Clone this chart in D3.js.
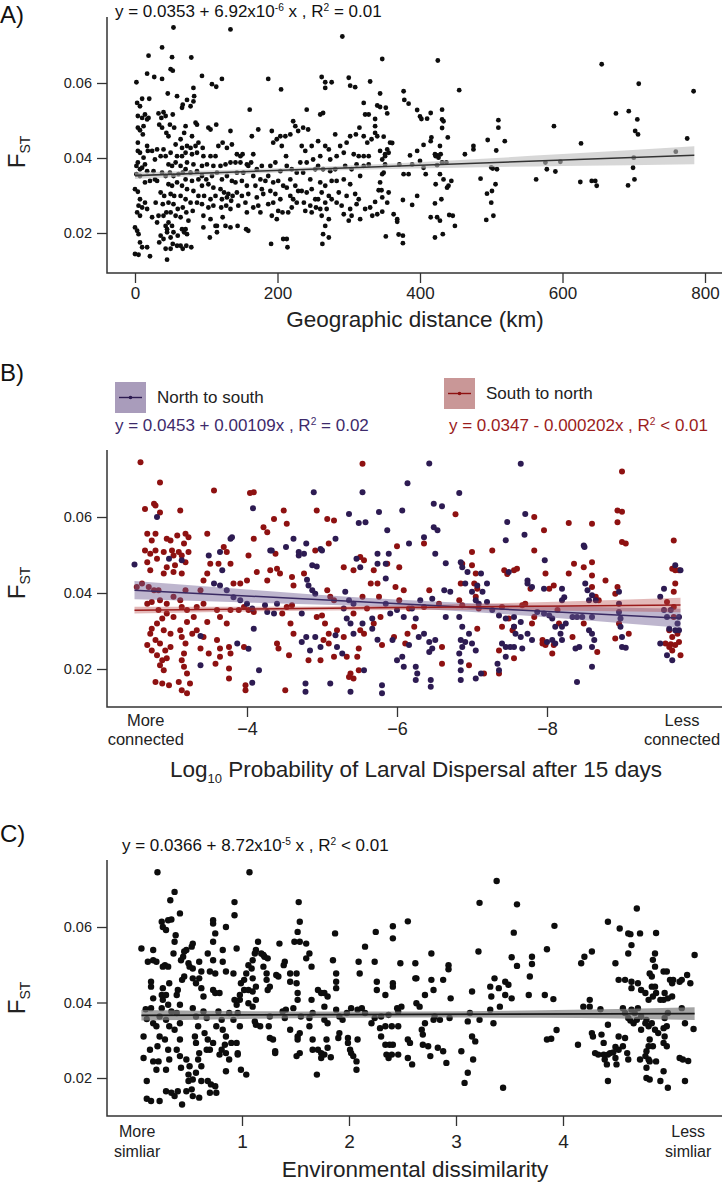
<!DOCTYPE html>
<html><head><meta charset="utf-8">
<script src="https://cdn.jsdelivr.net/npm/d3@7"></script>
<style>body{margin:0;background:#fff}svg{display:block}</style>
</head><body><svg id="c" width="724" height="1188"></svg>
<script>
// ---------- data ----------
const fstTicks = [0.02, 0.04, 0.06];
const distTicks = [0, 200, 400, 600, 800];
const dispTicks = [-4, -6, -8];
const envTicks = [1, 2, 3, 4];

// Panel A: [geographic distance km, FST]
const geoPoints = [
[2,.0602],[19,.0673],[3,.0547],[10,.0558],[7,.0538],[20,.0558],[17,.0625],[4,.0512],[10,.0507],[14,.0516],[4,.0481],[7,.0474],[12,.0485],[17,.0503],[19,.0507],[4,.0441],[11,.0463],[17,.0432],[4,.0419],[7,.0414],[4,.0388],[12,.0401],[18,.0419],[2,.0379],[7,.0370],[10,.0374],[2,.0357],[7,.0352],[14,.0383],[17,.0365],[0,.0317],[4,.0310],[7,.0290],[5,.0273],[10,.0268],[3,.0255],[7,.0246],[14,.0281],[17,.0264],[0,.0215],[3,.0206],[5,.0197],[7,.0175],[0,.0144],[5,.0142],[10,.0162],[17,.0162],[21,.0138],[14,.0335],[21,.0339],
[24,.0419],[28,.0396],[26,.0365],[28,.0343],[31,.0339],[29,.0281],[33,.0246],[31,.0228],[36,.0193],[34,.0175],[24,.0242],[38,.0695],[27,.0616],[38,.0611],[33,.0519],[37,.0507],[40,.0522],[34,.0489],[38,.0481],[43,.0512],[44,.0467],[31,.0423],[40,.0423],[36,.0405],[43,.0405],[38,.0361],[43,.0352],[36,.0308],[41,.0299],[39,.0277],[44,.0255],[40,.0246],[43,.0219],[45,.0202],[40,.0184],[45,.0129],[43,.0158],[45,.0210],
[54,.0748],[52,.0669],[50,.0637],[53,.0633],[46,.0572],[59,.0565],[53,.0516],[49,.0489],[55,.0481],[66,.0534],[67,.0542],[47,.0458],[57,.0436],[64,.0450],[66,.0427],[50,.0414],[59,.0405],[66,.0405],[47,.0383],[52,.0379],[57,.0388],[64,.0379],[49,.0361],[54,.0352],[61,.0357],[67,.0361],[47,.0330],[52,.0326],[59,.0335],[66,.0326],[50,.0304],[55,.0299],[64,.0299],[47,.0281],[54,.0277],[60,.0264],[67,.0268],[50,.0255],[57,.0246],[64,.0242],[47,.0228],[52,.0219],[54,.0202],[50,.0188],[60,.0193],[66,.0210],[69,.0202],[53,.0171],[59,.0166],[50,.0158],[67,.0158],[64,.0166],
[79,.0668],[73,.0555],[78,.0538],[82,.0587],[83,.0565],[82,.0551],[71,.0485],[85,.0494],[87,.0489],[69,.0467],[80,.0458],[89,.0441],[73,.0432],[78,.0427],[85,.0432],[71,.0414],[80,.0410],[87,.0414],[73,.0388],[82,.0383],[71,.0370],[78,.0361],[87,.0365],[71,.0343],[80,.0339],[89,.0343],[73,.0317],[82,.0312],[89,.0299],[71,.0290],[78,.0281],[87,.0281],[72,.0255],[81,.0259],[75,.0233],[71,.0210],[73,.0197],[79,.0162],[72,.0166],
[94,.0619],[108,.0597],[114,.0590],[95,.0427],[103,.0481],[106,.0476],[114,.0489],[96,.0405],[106,.0405],[113,.0405],[94,.0379],[101,.0383],[110,.0379],[94,.0352],[100,.0343],[108,.0352],[115,.0361],[94,.0326],[103,.0330],[110,.0321],[97,.0299],[106,.0290],[113,.0299],[94,.0277],[103,.0268],[110,.0273],[96,.0246],[106,.0237],[96,.0215],[105,.0188],[115,.0202],[113,.0219],
[122,.0611],[134,.0743],[134,.0472],[123,.0441],[117,.0432],[129,.0427],[136,.0436],[120,.0379],[127,.0383],[134,.0388],[122,.0343],[129,.0352],[136,.0339],[120,.0317],[125,.0308],[131,.0304],[137,.0299],[122,.0290],[129,.0295],[135,.0286],[121,.0268],[128,.0273],[134,.0264],[123,.0242],[115,.0219],[127,.0219],[134,.0215],
[143,.0410],[148,.0405],[151,.0410],[141,.0388],[148,.0388],[157,.0383],[143,.0361],[152,.0361],[159,.0379],[141,.0335],[150,.0339],[157,.0326],[143,.0308],[150,.0299],[159,.0304],[145,.0273],[155,.0281],[157,.0255],[144,.0219],[156,.0210],[159,.0206],[161,.0529],
[164,.0458],[166,.0410],[173,.0476],[163,.0388],[171,.0370],[178,.0379],[166,.0352],[176,.0343],[183,.0339],[169,.0326],[178,.0317],[171,.0295],[180,.0304],[173,.0273],[166,.0268],[176,.0255],
[187,.0611],[205,.0583],[192,.0472],[204,.0458],[194,.0441],[199,.0450],[206,.0432],[190,.0379],[197,.0388],[204,.0365],[187,.0352],[194,.0335],[201,.0339],[208,.0326],[190,.0312],[197,.0304],[204,.0290],[187,.0277],[194,.0281],[201,.0259],[207,.0255],[192,.0246],[199,.0237],[191,.0171],[208,.0184],
[211,.0458],[218,.0463],[212,.0405],[222,.0498],[225,.0485],[229,.0472],[213,.0379],[220,.0370],[227,.0361],[218,.0343],[225,.0326],[213,.0321],[229,.0312],[218,.0299],[222,.0290],[227,.0281],[220,.0268],[215,.0255],[213,.0184],[214,.0162],
[241,.0529],[236,.0481],[243,.0476],[234,.0432],[239,.0419],[248,.0432],[232,.0388],[241,.0388],[250,.0396],[236,.0361],[246,.0343],[253,.0370],[234,.0312],[241,.0308],[248,.0317],[253,.0290],[237,.0281],[246,.0273],[239,.0259],[248,.0255],[254,.0268],
[262,.0616],[267,.0602],[276,.0602],[264,.0520],[260,.0516],[267,.0587],[257,.0445],[267,.0432],[272,.0423],[260,.0405],[274,.0396],[257,.0379],[264,.0370],[274,.0365],[260,.0335],[267,.0326],[276,.0339],[262,.0308],[272,.0299],[257,.0290],[267,.0281],[276,.0290],[260,.0264],[269,.0264],[262,.0246],[272,.0237],[267,.0219],[263,.0171],[272,.0188],[264,.0197],
[291,.0724],[300,.0614],[302,.0593],[309,.0589],[281,.0463],[288,.0432],[297,.0441],[302,.0458],[310,.0463],[315,.0481],[283,.0405],[293,.0414],[307,.0410],[314,.0405],[281,.0370],[295,.0379],[304,.0370],[311,.0383],[283,.0339],[293,.0343],[302,.0330],[316,.0352],[286,.0308],[297,.0299],[309,.0304],[314,.0290],[283,.0281],[290,.0273],[302,.0264],[311,.0277],[293,.0250],[304,.0246],[316,.0237],[300,.0233],
[347,.0664],[425,.0660],[330,.0604],[321,.0547],[323,.0516],[328,.0516],[344,.0572],[340,.0540],[344,.0536],[352,.0534],[354,.0519],[337,.0504],[337,.0485],[337,.0467],[340,.0458],[332,.0450],[326,.0441],[321,.0458],[349,.0457],[358,.0441],[361,.0440],[344,.0419],[354,.0423],[351,.0410],[356,.0414],[347,.0396],[351,.0405],[328,.0405],[321,.0405],[321,.0379],[328,.0383],[351,.0383],[371,.0383],[389,.0383],[396,.0419],[386,.0407],[400,.0392],[405,.0374],[408,.0357],[377,.0357],[384,.0357],[347,.0357],[349,.0361],[344,.0335],[346,.0314],[342,.0314],[356,.0308],[337,.0283],[330,.0268],[323,.0264],[333,.0246],[340,.0250],[347,.0257],[347,.0295],[354,.0281],[363,.0250],[368,.0237],[368,.0230],[352,.0191],[370,.0196],[376,.0193],[376,.0173],[376,.0288],[389,.0275],[396,.0299],[377,.0578],[378,.0555],[384,.0545],[396,.0528],[400,.0511],[402,.0504],[410,.0505],[415,.0520],[405,.0435],[415,.0445],[416,.0455],[428,.0432],[421,.0410],[422,.0405],[425,.0407],[426,.0401],[429,.0410],[431,.0388],[424,.0381],[431,.0480],[431,.0503],[433,.0498],[431,.0529],[439,.0455],[437,.0388],[428,.0357],[433,.0343],[444,.0339],[422,.0330],[440,.0326],[438,.0321],[430,.0290],[421,.0279],[415,.0242],[424,.0242],[428,.0233],[441,.0248],[446,.0246],[449,.0219],[432,.0197],[421,.0188],[455,.0581],[463,.0410],[475,.0432],[475,.0423],[485,.0345],[495,.0448],[494,.0305],[501,.0312],[500,.0281],[506,.0330],[502,.0372],[500,.0375],[508,.0370],[507,.0420],[510,.0501],[510,.0481],[519,.0445],[493,.0235],[503,.0246],[576,.0388],[578,.0370],[563,.0343],[588,.0485],[590,.0364],[597,.0390],[625,.0336],[626,.0439],[641,.0339],[646,.0339],[648,.0326],[655,.0650],[675,.0519],[693,.0525],[705,.0503],[702,.0472],[706,.0463],[699,.0374],[700,.0401],[701,.0343],[692,.0327],[707,.0598],[759,.0417],[775,.0452],[784,.0578]
];

// Panel B: [log10 probability, FST]
const northSouthPoints = [
[-2.5,.0475],[-2.8,.0600],[-2.96,.0490],[-3.13,.0486],[-3.38,.0210],[-3.38,.0287],[-3.49,.0499],[-3.64,.0508],[-3.78,.0543],[-3.8,.0547],[-3.67,.0460],[-3.56,.0425],[-3.64,.0420],[-3.73,.0407],[-3.82,.0389],[-3.91,.0381],[-4.0,.0372],[-4.07,.0359],[-4.08,.0623],[-4.09,.0306],[-4.16,.0197],[-4.07,.0164],[-4.02,.0253],[-3.87,.0267],[-4.27,.0350],[-4.24,.0368],[-4.31,.0512],[-4.33,.0512],[-4.4,.0372],[-4.36,.0346],[-4.52,.0521],[-4.62,.0543],[-4.69,.0499],[-4.69,.0508],[-4.76,.0503],[-4.79,.0530],[-4.89,.0665],[-4.8,.0435],[-4.82,.0420],[-4.87,.0407],[-4.91,.0398],[-4.87,.0473],[-4.93,.0470],[-4.73,.0346],[-4.73,.0271],[-4.79,.0284],[-4.84,.0249],[-4.91,.0284],[-4.98,.0258],[-4.78,.0162],[-4.78,.0140],[-4.98,.0516],[-5.0,.0512],[-5.18,.0543],[-5.36,.0608],[-5.29,.0359],[-5.18,.0289],[-5.2,.0258],[-5.27,.0241],[-5.11,.0162],[-5.38,.0140],[-5.33,.0333],[-5.31,.0403],[-5.42,.0372],[-5.38,.0320],[-5.46,.0490],[-5.49,.0584],[-5.51,.0468],[-5.36,.0381],[-5.42,.0293],
[-6.43,.0741],[-5.54,.0665],[-6.14,.0689],[-6.83,.0663],[-6.07,.0617],[-6.49,.0635],[-6.6,.0628],[-6.49,.0573],[-6.54,.0565],[-6.36,.0547],[-6.16,.0530],[-5.87,.0565],[-5.76,.0613],[-5.58,.0586],[-5.74,.0503],[-5.89,.0503],[-5.85,.0477],[-5.74,.0477],[-6.51,.0503],[-6.65,.0478],[-6.85,.0481],[-6.87,.0468],[-6.94,.0455],[-7.12,.0451],[-6.91,.0425],[-7.07,.0420],[-7.2,.0425],[-7.14,.0403],[-7.0,.0403],[-6.71,.0403],[-6.63,.0407],[-6.47,.0385],[-6.31,.0381],[-6.2,.0359],[-5.85,.0438],[-5.85,.0372],[-5.91,.0346],[-6.0,.0355],[-6.09,.0337],[-6.25,.0333],[-5.67,.0333],[-5.54,.0320],[-5.67,.0306],[-5.74,.0277],[-5.94,.0276],[-6.29,.0284],[-6.36,.0293],[-6.43,.0271],[-6.47,.0254],[-6.43,.0245],[-6.51,.0276],[-6.16,.0263],[-6.07,.0232],[-6.0,.0223],[-6.09,.0206],[-6.25,.0206],[-6.27,.0188],[-6.25,.0171],[-6.45,.0171],[-6.45,.0153],[-5.56,.0197],[-5.8,.0157],[-5.8,.0136],[-6.65,.0337],[-6.83,.0337],[-6.87,.0311],[-6.85,.0276],[-6.91,.0271],[-7.0,.0267],[-7.05,.0249],[-6.87,.0258],[-6.83,.0241],[-6.85,.0219],[-6.85,.0197],[-6.85,.0171],[-7.05,.0175],[-7.12,.0188],[-6.96,.0293],[-7.09,.0372],[-7.05,.0381],[-7.2,.0376],[-7.27,.0355],[-7.36,.0341],[-7.45,.0333],[-7.56,.0337],[-7.65,.0324],[-7.56,.0311],[-7.58,.0293],[-7.65,.0284],[-7.74,.0293],[-7.8,.0276],[-7.67,.0254],[-7.56,.0258],[-7.45,.0258],[-7.45,.0232],[-7.4,.0267],[-7.51,.0258],[-7.34,.0214],[-7.36,.0197],[-7.65,.0740],[-7.71,.0608],[-7.7,.0553],[-7.45,.0539],[-7.47,.0587],[-7.49,.0455],[-7.74,.0433],[-7.74,.0425],[-7.8,.0416],[-7.96,.0411],[-7.97,.0486],[-7.87,.0350],[-7.96,.0346],[-8.03,.0341],[-8.07,.0333],[-8.11,.0311],[-8.18,.0293],[-8.2,.0276],[-8.07,.0276],[-8.0,.0271],[-8.11,.0267],[-8.2,.0311],[-8.25,.0320],[-8.2,.0411],[-8.23,.0389],[-8.2,.0381],[-8.34,.0337],[-8.4,.0337],[-8.47,.0337],[-8.49,.0525],[-8.5,.0521],[-8.51,.0425],[-8.54,.0407],[-8.6,.0394],[-8.56,.0381],[-8.65,.0381],[-8.6,.0337],[-8.56,.0302],[-8.6,.0293],[-8.63,.0276],[-8.6,.0258],[-8.6,.0206],[-8.4,.0166],[-8.38,.0254],[-8.43,.0258],[-8.96,.0372],[-8.96,.0350],[-8.98,.0333],[-8.98,.0311],[-9.0,.0284],[-9.05,.0256],[-9.0,.0258],[-8.96,.0403],[-9.51,.0390],[-9.56,.0411],[-9.56,.0355],[-9.6,.0337],[-9.65,.0355],[-9.63,.0306],[-9.76,.0337],[-9.76,.0302],[-9.78,.0460],[-9.71,.0473],[-9.74,.0320],[-9.71,.0302],[-9.67,.0223],[-9.6,.0236],[-9.51,.0267]
];
const southNorthPoints = [
[-2.58,.0744],[-2.84,.0691],[-2.64,.0621],[-2.76,.0635],[-2.78,.0630],[-2.84,.0612],[-3.11,.0617],[-2.67,.0556],[-2.73,.0538],[-2.78,.0556],[-2.93,.0543],[-2.98,.0538],[-3.07,.0551],[-3.18,.0556],[-3.22,.0547],[-2.71,.0503],[-2.78,.0512],[-2.89,.0508],[-3.0,.0512],[-3.02,.0499],[-3.09,.0508],[-3.16,.0530],[-3.13,.0499],[-2.67,.0481],[-2.64,.0512],[-2.8,.0490],[-2.93,.0468],[-3.04,.0473],[-3.18,.0481],[-3.22,.0508],[-2.71,.0460],[-2.89,.0451],[-3.02,.0455],[-3.13,.0451],[-2.53,.0416],[-2.6,.0425],[-2.69,.0416],[-2.76,.0407],[-2.82,.0407],[-2.67,.0372],[-2.73,.0376],[-2.84,.0381],[-2.93,.0372],[-3.02,.0390],[-3.11,.0381],[-3.18,.0407],[-2.82,.0355],[-2.93,.0346],[-3.02,.0337],[-3.13,.0363],[-3.2,.0355],[-2.87,.0333],[-2.8,.0320],[-2.73,.0306],[-2.89,.0302],[-2.98,.0293],[-2.71,.0293],[-2.78,.0276],[-2.84,.0267],[-2.67,.0263],[-2.91,.0249],[-2.98,.0258],[-2.73,.0249],[-2.8,.0236],[-2.87,.0223],[-2.93,.0228],[-2.84,.0210],[-2.89,.0197],[-2.78,.0166],[-2.87,.0162],[-2.96,.0157],[-3.09,.0166],[-3.13,.0144],[-3.2,.0136],[-3.24,.0162],[-3.2,.0188],[-3.16,.0206],[-3.13,.0223],[-3.16,.0241],[-3.18,.0267],[-3.13,.0284],[-3.11,.0302],[-3.27,.0293],[-3.2,.0324],[-3.29,.0337],[-3.33,.0363],[-3.42,.0372],[-3.38,.0407],[-3.42,.0433],[-3.47,.0451],[-3.51,.0477],[-3.47,.0556],[-3.56,.0670],[-3.62,.0477],[-3.69,.0521],[-3.73,.0508],[-3.78,.0477],[-3.82,.0425],[-3.91,.0425],[-4.0,.0433],[-3.6,.0355],[-3.64,.0337],[-3.78,.0355],[-3.89,.0355],[-3.96,.0363],[-4.02,.0355],[-4.09,.0350],[-3.73,.0320],[-3.47,.0324],[-3.33,.0302],[-3.42,.0284],[-3.38,.0254],[-3.49,.0241],[-3.6,.0276],[-3.64,.0254],[-3.76,.0258],[-3.78,.0241],[-3.64,.0232],[-3.58,.0214],[-3.76,.0201],[-3.76,.0175],[-3.96,.0258],[-4.09,.0665],[-4.04,.0663],[-4.09,.0543],[-4.02,.0499],[-4.13,.0455],[-4.27,.0560],[-4.31,.0460],[-4.27,.0433],[-4.4,.0464],[-4.44,.0451],[-4.38,.0503],[-4.22,.0573],[-4.36,.0595],[-4.49,.0617],[-4.53,.0582],[-4.6,.0442],[-4.62,.0420],[-4.76,.0451],[-4.91,.0512],[-4.93,.0617],[-5.07,.0595],[-5.16,.0591],[-5.09,.0530],[-5.07,.0407],[-5.11,.0390],[-5.16,.0381],[-5.29,.0468],[-5.42,.0460],[-5.51,.0495],[-4.53,.0363],[-4.6,.0368],[-4.47,.0346],[-4.58,.0320],[-4.62,.0293],[-4.4,.0267],[-4.42,.0254],[-4.56,.0236],[-4.51,.0144],[-4.93,.0337],[-5.0,.0341],[-5.04,.0320],[-5.09,.0293],[-5.2,.0302],[-5.29,.0284],[-5.09,.0267],[-5.02,.0276],[-5.33,.0232],[-5.36,.0179],[-5.42,.0175],[-5.38,.0188],[-5.49,.0197],[-5.47,.0232],[-5.16,.0232],[-4.98,.0223],[-4.82,.0223],[-5.49,.0254],[-5.51,.0302],[-3.98,.0157],[-3.98,.0144],[-5.42,.0346],
[-5.54,.0740],[-9.0,.0720],[-9.0,.0614],[-8.94,.0617],[-8.94,.0586],[-9.0,.0534],[-9.05,.0530],[-8.6,.0582],[-8.29,.0584],[-7.83,.0600],[-7.96,.0565],[-7.83,.0512],[-7.27,.0512],[-7.0,.0508],[-6.87,.0477],[-6.78,.0607],[-6.36,.0530],[-6.0,.0523],[-6.03,.0468],[-6.09,.0407],[-5.98,.0416],[-5.87,.0477],[-5.56,.0486],[-5.69,.0460],[-5.74,.0425],[-5.76,.0390],[-5.54,.0390],[-5.65,.0425],[-5.6,.0359],[-5.56,.0293],[-5.69,.0320],[-5.78,.0337],[-5.8,.0263],[-5.96,.0284],[-6.14,.0293],[-6.11,.0267],[-6.23,.0311],[-6.16,.0359],[-6.03,.0381],[-6.43,.0407],[-6.36,.0363],[-6.56,.0372],[-6.6,.0258],[-6.6,.0214],[-6.85,.0425],[-6.83,.0381],[-6.87,.0368],[-7.0,.0473],[-7.05,.0451],[-7.03,.0425],[-7.07,.0411],[-7.05,.0390],[-7.09,.0359],[-7.07,.0306],[-6.96,.0210],[-7.16,.0188],[-7.43,.0460],[-7.47,.0450],[-7.56,.0460],[-7.6,.0464],[-7.78,.0411],[-7.67,.0368],[-7.71,.0372],[-7.4,.0363],[-7.4,.0311],[-7.49,.0333],[-7.56,.0311],[-7.56,.0228],[-7.36,.0249],[-7.36,.0188],[-7.54,.0302],[-7.8,.0320],[-7.83,.0337],[-7.98,.0451],[-8.09,.0420],[-8.03,.0411],[-8.14,.0355],[-8.16,.0320],[-8.29,.0451],[-8.36,.0477],[-8.49,.0468],[-8.6,.0481],[-8.6,.0446],[-8.78,.0433],[-8.6,.0416],[-8.65,.0390],[-8.69,.0381],[-8.94,.0416],[-8.91,.0398],[-8.96,.0320],[-9.09,.0293],[-8.91,.0280],[-8.49,.0320],[-8.34,.0284],[-8.09,.0263],[-8.07,.0241],[-7.94,.0276],[-7.98,.0263],[-7.94,.0267],[-8.67,.0245],[-9.69,.0538],[-9.67,.0464],[-9.71,.0460],[-9.76,.0460],[-9.71,.0425],[-9.69,.0403],[-9.6,.0376],[-9.69,.0363],[-9.69,.0337],[-9.63,.0302],[-9.67,.0284],[-9.74,.0293],[-9.65,.0265],[-9.71,.0263],[-9.67,.0249],[-9.78,.0236],[-9.58,.0267],[-9.76,.0271],[-9.63,.0258]
];

// Panel C: [environmental dissimilarity, FST]
const envPoints = [
[.06,.0543],[.21,.0745],[.08,.0310],[.10,.0382],[.11,.0356],[.08,.0253],[.11,.0192],[.11,.0145],[.15,.0139],[.17,.0244],[.14,.0275],[.17,.0345],[.15,.0385],[.17,.0411],[.15,.0442],[.15,.0455],[.17,.0512],[.12,.0508],[.17,.0539],[.2,.0508],[.23,.0139],[.2,.0222],[.22,.0244],[.21,.0284],[.23,.0310],[.2,.0337],[.23,.0363],[.25,.0385],[.26,.0407],[.25,.0420],[.26,.0438],[.28,.0499],[.26,.0495],[.25,.0614],[.26,.0600],[.29,.0592],[.31,.0618],[.34,.0620],[.33,.0671],[.37,.0693],[.42,.0636],[.38,.0578],[.37,.0561],[.36,.0530],[.31,.0495],[.32,.0451],[.29,.0420],[.31,.0394],[.34,.0376],[.29,.0354],[.32,.0337],[.28,.0302],[.31,.0275],[.32,.0249],[.29,.0222],[.29,.0165],[.34,.0161],[.37,.0152],[.4,.0165],[.44,.0130],[.48,.0165],[.53,.0170],[.54,.0152],[.6,.0148],[.5,.0192],[.5,.0209],[.51,.0231],[.48,.0249],[.43,.0227],[.42,.0258],[.39,.0275],[.42,.0302],[.37,.0328],[.42,.0345],[.39,.0372],[.42,.0394],[.39,.0420],[.4,.0433],[.44,.0460],[.46,.0469],[.43,.0512],[.45,.0521],[.46,.0535],[.48,.0539],[.5,.0504],[.51,.0495],[.53,.0548],[.54,.0556],[.54,.0490],[.54,.0464],[.57,.0451],[.6,.0464],[.62,.0482],[.6,.0508],[.62,.0438],[.64,.0416],[.54,.0385],[.57,.0363],[.59,.0337],[.56,.0310],[.57,.0293],[.6,.0266],[.59,.0249],[.62,.0231],[.57,.0214],[.54,.0196],[.62,.0192],[.68,.0192],[.71,.0183],[.75,.0178],[.7,.0161],[.76,.0161],[.64,.0376],[.67,.0359],[.65,.0319],[.68,.0302],[.7,.0275],[.73,.0293],[.67,.0275],[.76,.0337],[.73,.0561],[.75,.0583],[.73,.0609],[.73,.0618],[.68,.0530],[.73,.0512],[.7,.0482],[.75,.0477],[.73,.0433],[.75,.0425],[.79,.0425],[.78,.0376],[.81,.0354],[.82,.0328],[.85,.0310],[.84,.0288],[.81,.0275],[.85,.0266],[.79,.0262],[.85,.0218],[.88,.0249],[.9,.0293],[.92,.0354],[.88,.0372],[.95,.0394],[.93,.0407],[.98,.0407],[.92,.0477],[.85,.0482],[.82,.0508],[.82,.0539],[.85,.0600],[.95,.0543],[.93,.0631],[.93,.0666],[.98,.0420],[.96,.0372],[.98,.0337],[.95,.0293],[.96,.0262],[.99,.0222],[.96,.0266],[1.04,.0209],[1.07,.0745],[.99,.0451],[1.02,.0433],[1.06,.0398],[1.06,.0433],[1.02,.0460],[1.04,.0477],[1.09,.0490],[1.06,.0499],[1.1,.0464],[1.1,.0429],[1.13,.0442],[1.13,.0539],[1.1,.0512],[1.12,.0530],[1.15,.0561],[1.18,.0530],[1.2,.0526],[1.21,.0521],[1.24,.0517],[1.13,.0407],[1.1,.0389],[1.12,.0350],[1.13,.0341],[1.17,.0337],[1.2,.0495],[1.23,.0477],[1.23,.0460],[1.26,.0442],[1.24,.0433],[1.26,.0363],[1.25,.0337],[1.26,.0306],[1.29,.0302],[1.31,.0271],[1.31,.0266],[1.32,.0473],[1.34,.0469],[1.35,.0556],[1.39,.0499],[1.4,.0508],[1.45,.0477],[1.45,.0455],[1.41,.0381],[1.38,.0376],[1.4,.0359],[1.45,.0328],[1.48,.0385],[1.54,.0614],[1.52,.0587],[1.53,.0666],[1.49,.0561],[1.51,.0477],[1.51,.0451],[1.52,.0425],[1.52,.0407],[1.55,.0363],[1.54,.0319],[1.52,.0310],[1.52,.0302],[1.54,.0266],[1.51,.0258],[1.54,.0561],[1.6,.0556],[1.6,.0517],[1.63,.0530],[1.65,.0495],[1.71,.0433],[1.74,.0425],[1.65,.0407],[1.66,.0372],[1.63,.0359],[1.63,.0337],[1.66,.0302],[1.66,.0275],[1.7,.0209],[1.71,.0275],[1.74,.0266],[1.74,.0253],[1.77,.0262],[1.8,.0280],[1.83,.0255],[1.79,.0302],[1.77,.0354],[1.8,.0345],[1.77,.0425],[1.77,.0389],[1.8,.0416],[1.85,.0512],[1.87,.0583],[1.88,.0477],[1.88,.0455],[1.88,.0438],[1.88,.0381],[1.91,.0319],[1.9,.0306],[1.91,.0363],[1.94,.0354],[1.98,.0372],[1.99,.0306],[1.99,.0293],[2.01,.0275],[2.02,.0266],[2.04,.0258],[2.07,.0244],[2.07,.0222],[2.08,.0302],[2.08,.0381],[2.09,.0508],[2.1,.0477],[2.02,.0385],
[2.15,.0548],[2.24,.0508],[2.26,.0455],[2.26,.0433],[2.34,.0420],[2.25,.0587],[2.41,.0570],[2.41,.0602],[2.55,.0615],[2.48,.0504],[2.41,.0451],[2.41,.0442],[2.62,.0464],[2.63,.0464],[2.62,.0504],[2.77,.0530],[2.77,.0460],[2.79,.0433],[2.71,.0420],[2.88,.0460],[2.93,.0499],[2.93,.0488],[2.95,.0411],[2.63,.0398],[2.66,.0389],[2.49,.0389],[2.45,.0385],[2.46,.0376],[2.37,.0367],[2.3,.0363],[2.24,.0359],[2.21,.0345],[2.15,.0372],[2.12,.0385],[2.29,.0332],[2.34,.0337],[2.4,.0337],[2.46,.0337],[2.3,.0310],[2.34,.0288],[2.38,.0288],[2.41,.0288],[2.35,.0262],[2.37,.0253],[2.4,.0262],[2.46,.0262],[2.55,.0253],[2.59,.0236],[2.55,.0302],[2.57,.0293],[2.68,.0328],[2.71,.0345],[2.69,.0315],[2.69,.0288],[2.74,.0284],[2.76,.0258],[2.83,.0280],[2.85,.0354],[2.88,.0271],[2.91,.0240],[2.79,.0354],[2.8,.0363],[2.94,.0359],[3.05,.0271],[3.11,.0350],[3.13,.0372],[3.15,.0310],[3.18,.0297],[3.16,.0249],[3.11,.0214],[3.08,.0187],[3.22,.0354],[3.15,.0429],[3.21,.0535],[3.22,.0664],[3.38,.0722],[3.57,.0660],[3.54,.0585],[3.52,.0520],[3.57,.0497],[3.32,.0442],[3.33,.0416],[3.36,.0464],[3.4,.0438],[3.41,.0389],[3.46,.0455],[3.46,.0420],[3.49,.0447],[3.52,.0411],[3.32,.0381],[3.35,.0345],[3.44,.0174],[3.71,.0521],[3.71,.0502],[3.69,.0469],[3.68,.0420],[3.85,.0541],[3.92,.0603],[3.83,.0420],[3.91,.0409],[3.85,.0302],[3.89,.0304],[3.94,.0327],[4.14,.0288],[4.17,.0504],[4.2,.0521],[4.27,.0535],[4.19,.0389],[4.25,.0389],[4.25,.0407],[4.27,.0319],[4.28,.0310],[4.35,.0382],[4.36,.0315],[4.38,.0293],[4.42,.0341],[4.38,.0262],[4.33,.0262],[4.3,.0266],[4.39,.0249],[4.42,.0262],[4.41,.0236],[4.44,.0266],[4.47,.0268],[4.49,.0282],[4.52,.0275],[4.56,.0284],[4.61,.0249],[4.6,.0266],[4.58,.0306],[4.52,.0310],[4.49,.0253],[4.42,.0192],[4.5,.0236],[4.42,.0614],[4.53,.0596],[4.49,.0504],[4.52,.0460],[4.58,.0460],[4.64,.0455],[4.61,.0583],[4.63,.0581],[4.64,.0552],[4.61,.0530],[4.72,.0583],[4.69,.0649],[4.87,.0584],[4.64,.0438],[4.7,.0451],[4.73,.0433],[4.77,.0425],[4.8,.0407],[4.56,.0385],[4.58,.0372],[4.61,.0359],[4.64,.0381],[4.63,.0352],[4.67,.0372],[4.7,.0385],[4.66,.0345],[4.69,.0354],[4.73,.0363],[4.77,.0345],[4.78,.0354],[4.73,.0328],[4.8,.0337],[4.83,.0345],[4.86,.0328],[4.89,.0319],[4.81,.0302],[4.84,.0284],[4.8,.0284],[4.78,.0271],[4.8,.0249],[4.78,.0227],[4.78,.0200],[4.81,.0196],[4.91,.0192],[4.72,.0249],[4.77,.0258],[4.81,.0244],[4.87,.0244],[4.94,.0218],[4.98,.0174],[4.86,.0530],[4.84,.0513],[4.86,.0495],[4.81,.0477],[4.83,.0469],[4.83,.0442],[4.86,.0442],[4.87,.0425],[4.84,.0416],[4.91,.0407],[4.94,.0407],[4.95,.0425],[4.98,.0411],[5.02,.0416],[4.98,.0372],[4.95,.0359],[4.97,.0337],[4.94,.0332],[4.95,.0310],[4.94,.0293],[4.97,.0284],[4.94,.0482],[4.97,.0482],[5.0,.0460],[5.03,.0460],[5.02,.0451],[5.09,.0455],[5.11,.0460],[5.16,.0473],[5.19,.0451],[5.11,.0385],[5.14,.0345],[5.22,.0330],[5.23,.0526],[5.09,.0253],[5.12,.0249],[5.17,.0245],[5.14,.0192]
];

// regression fits (intercept, slope) and confidence half-widths [x, half-width]
const fitA = [0.0353, 6.92e-6];
const bandA = [[0,.0009],[150,.0006],[300,.0006],[450,.0010],[600,.0016],[785,.0024]];
const fitNS = [0.0433, 0.00102];
const bandNS = [[-2.5,.0024],[-4,.0017],[-5.5,.0011],[-6.5,.0011],[-8,.0015],[-9.78,.0025]];
const fitSN = [0.0350, -0.00019];
const bandSN = [[-2.5,.0009],[-4,.0006],[-6,.0006],[-8,.0011],[-9.78,.0019]];
const fitC = [0.0366, 8.72e-5];
const bandC = [[0.06,.0014],[1.5,.0009],[2.6,.0008],[3.8,.0010],[5.23,.0017]];

// ---------- drawing ----------
const FONT = '"Liberation Sans", Arial, Helvetica, sans-serif';
const svg = d3.select("#c").attr("font-family", FONT);
const AX = "#333";

function frame(left, top, bottom, right) {
  svg.append("path").attr("d", `M${left},${top}V${bottom}H${right}`)
    .attr("fill", "none").attr("stroke", AX).attr("stroke-width", 1.5);
}
function yAxis(y, left) {
  const g = svg.append("g").attr("transform", `translate(${left},0)`)
    .call(d3.axisLeft(y).tickValues(fstTicks).tickSize(10).tickPadding(5).tickFormat(d3.format(".2f")));
  g.select(".domain").remove();
  g.selectAll("line").attr("stroke", AX).attr("stroke-width", 1.3);
  g.selectAll("text").attr("font-size", 14.5).attr("font-family", FONT).attr("fill", "#222");
}
function xAxis(x, bottom, ticks, fs, pad) {
  const g = svg.append("g").attr("transform", `translate(0,${bottom})`)
    .call(d3.axisBottom(x).tickValues(ticks).tickSize(10).tickPadding(pad).tickFormat(d3.format("d")));
  g.select(".domain").remove();
  g.selectAll("line").attr("stroke", AX).attr("stroke-width", 1.3);
  g.selectAll("text").attr("font-size", fs).attr("font-family", FONT).attr("fill", "#222");
}
function fstLabel(cx, cy) {
  const t = svg.append("text").attr("transform", `translate(${cx},${cy}) rotate(-90)`)
    .attr("text-anchor", "middle").attr("font-size", 24).attr("fill", "#222");
  t.append("tspan").text("F");
  t.append("tspan").attr("font-size", 14).attr("dy", 5).text("ST");
}
function panelLabel(txt, x, y) {
  svg.append("text").attr("x", x).attr("y", y).attr("font-size", 24).attr("fill", "#111").text(txt);
}
function equation(x, y, parts, color, fs) {
  const t = svg.append("text").attr("x", x).attr("y", y).attr("font-size", fs).attr("fill", color);
  parts.forEach(p => {
    const s = t.append("tspan").text(p[0]);
    if (p[1] === "sup") s.attr("font-size", fs * 0.6).attr("dy", -fs * 0.35);
    if (p[1] === "down") s.attr("dy", fs * 0.35);
  });
}
function band(x, y, fit, hw, fill, op) {
  const f = v => fit[0] + fit[1] * v;
  svg.append("path").datum(hw)
    .attr("d", d3.area().curve(d3.curveMonotoneX)
      .x(d => x(d[0])).y0(d => y(f(d[0]) - d[1])).y1(d => y(f(d[0]) + d[1])))
    .attr("fill", fill).attr("opacity", op);
}
function fitLine(x, y, fit, x0, x1, color, w) {
  const f = v => fit[0] + fit[1] * v;
  svg.append("path").datum([x0, x1])
    .attr("d", d3.line().x(d => x(d)).y(d => y(f(d))))
    .attr("stroke", color).attr("stroke-width", w).attr("fill", "none");
}
function dots(data, x, y, r, color) {
  svg.append("g").selectAll("circle").data(data).join("circle")
    .attr("cx", d => x(d[0])).attr("cy", d => y(d[1])).attr("r", r).attr("fill", color);
}
function xLabel(txt, y) {
  svg.append("text").attr("x", 415).attr("y", y).attr("text-anchor", "middle")
    .attr("font-size", 22.5).attr("fill", "#222").text(txt);
}

// ----- Panel A -----
const xA = d3.scaleLinear().domain([0, 800]).range([135, 705]);
const yA = d3.scaleLinear().domain([0.02, 0.06]).range([233, 83]);
panelLabel("A)", 0, 23);
equation(115, 17, [["y = 0.0353 + 6.92x10"], ["-6", "sup"], [" x , R", "down"], ["2", "sup"], [" = 0.01", "down"]], "#111", 17);
dots(geoPoints, xA, yA, 2.4, "#0d0d0d");
band(xA, yA, fitA, bandA, "#bcbcbc", 0.6);
fitLine(xA, yA, fitA, 0, 785, "#333", 1.6);
frame(107, 17, 273, 722);
yAxis(yA, 107);
xAxis(xA, 273, distTicks, 17, 4);
fstLabel(25, 152);
xLabel("Geographic distance (km)", 327);

// ----- Panel B -----
const xB = d3.scaleLinear().domain([-4, -8]).range([247, 547]);
const yB = d3.scaleLinear().domain([0.02, 0.06]).range([669, 517]);
const NS = "#2d1b52", SN = "#8e1111";
panelLabel("B)", 0, 381);
// legend
[[115, 382, "#a99cbb", NS, "North to south", 403], [444, 378, "#c99797", SN, "South to north", 399]].forEach(l => {
  svg.append("rect").attr("x", l[0]).attr("y", l[1]).attr("width", 31).attr("height", 31).attr("fill", l[2]);
  svg.append("line").attr("x1", l[0] + 4).attr("x2", l[0] + 27).attr("y1", l[1] + 15.5).attr("y2", l[1] + 15.5)
    .attr("stroke", l[3]).attr("stroke-width", 1.4);
  svg.append("circle").attr("cx", l[0] + 15.5).attr("cy", l[1] + 15.5).attr("r", 1.8).attr("fill", l[3]);
  svg.append("text").attr("x", l[0] + 42).attr("y", l[5]).attr("font-size", 17).attr("fill", "#222").text(l[4]);
});
equation(115, 431, [["y = 0.0453 + 0.00109x , R"], ["2", "sup"], [" = 0.02", "down"]], "#3d2a6b", 17);
equation(449, 431, [["y = 0.0347 - 0.000202x , R"], ["2", "sup"], [" < 0.01", "down"]], "#9b1c1c", 17);
dots(southNorthPoints, xB, yB, 3, SN);
dots(northSouthPoints, xB, yB, 3, NS);
band(xB, yB, fitNS, bandNS, "#6e5e92", 0.45);
band(xB, yB, fitSN, bandSN, "#b54848", 0.38);
fitLine(xB, yB, fitNS, -2.5, -9.78, "#3a2a63", 1.5);
fitLine(xB, yB, fitSN, -2.5, -9.78, "#9a1b1b", 1.5);
frame(107, 450, 707, 722);
yAxis(yB, 107);
xAxis(xB, 707, dispTicks, 18, 5);
fstLabel(25, 583);
[["More", "connected", -2.65], ["Less", "connected", -9.8]].forEach(l => {
  const t = svg.append("text").attr("text-anchor", "middle").attr("font-size", 16.5).attr("fill", "#222");
  t.append("tspan").attr("x", xB(l[2])).attr("y", 726).text(l[0]);
  t.append("tspan").attr("x", xB(l[2])).attr("y", 745).text(l[1]);
});
{
  const t = svg.append("text").attr("x", 416).attr("y", 777).attr("text-anchor", "middle")
    .attr("font-size", 22.5).attr("fill", "#222");
  t.append("tspan").text("Log");
  t.append("tspan").attr("font-size", 13).attr("dy", 6).text("10");
  t.append("tspan").attr("dy", -6).text(" Probability of Larval Dispersal after 15 days");
}

// ----- Panel C -----
const xC = d3.scaleLinear().domain([1, 4]).range([242, 563]);
const yC = d3.scaleLinear().domain([0.02, 0.06]).range([1078, 927]);
panelLabel("C)", 0, 842);
equation(122, 851, [["y = 0.0366 + 8.72x10"], ["-5", "sup"], [" x , R", "down"], ["2", "sup"], [" < 0.01", "down"]], "#111", 17);
dots(envPoints, xC, yC, 3.2, "#0d0d0d");
band(xC, yC, fitC, bandC, "#7d7d7d", 0.7);
fitLine(xC, yC, fitC, 0.06, 5.23, "#1a1a1a", 1.8);
frame(107, 860, 1116, 722);
yAxis(yC, 107);
xAxis(xC, 1116, envTicks, 19, 9);
fstLabel(25, 998);
[["More", "simliar", 0.02], ["Less", "simliar", 5.17]].forEach(l => {
  const t = svg.append("text").attr("text-anchor", "middle").attr("font-size", 16).attr("fill", "#222");
  t.append("tspan").attr("x", xC(l[2])).attr("y", 1137).text(l[0]);
  t.append("tspan").attr("x", xC(l[2])).attr("y", 1157).text(l[1]);
});
xLabel("Environmental dissimilarity", 1177);
</script>
</body></html>
